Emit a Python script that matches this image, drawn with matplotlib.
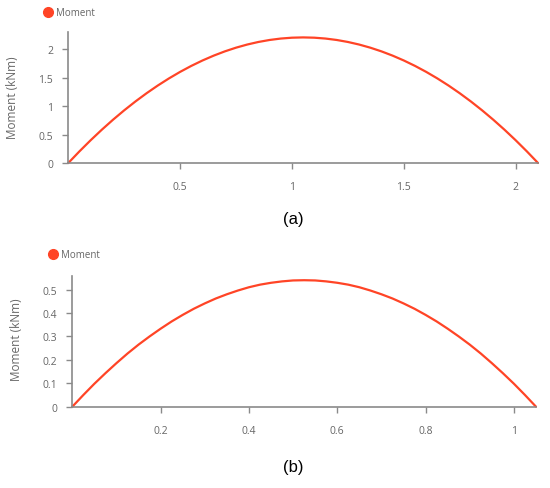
import matplotlib
matplotlib.use("Agg")
import matplotlib.pyplot as plt
from matplotlib.ticker import FormatStrFormatter
from matplotlib.lines import Line2D

# panel (a): span 2.1 m
pos_a = [0.0, 0.05, 0.1, 0.15, 0.2, 0.25, 0.3, 0.35, 0.4, 0.45, 0.5, 0.55, 0.6, 0.65,
         0.7, 0.75, 0.8, 0.85, 0.9, 0.95, 1.0, 1.05, 1.1, 1.15, 1.2, 1.25, 1.3, 1.35,
         1.4, 1.45, 1.5, 1.55, 1.6, 1.65, 1.7, 1.75, 1.8, 1.85, 1.9, 1.95, 2.0, 2.05, 2.1]
moment_a = [0.0, 0.205, 0.40, 0.585, 0.76, 0.925, 1.08, 1.225, 1.36, 1.485, 1.60, 1.705,
            1.80, 1.885, 1.96, 2.025, 2.08, 2.125, 2.16, 2.185, 2.20, 2.205, 2.20, 2.185,
            2.16, 2.125, 2.08, 2.025, 1.96, 1.885, 1.80, 1.705, 1.60, 1.485, 1.36, 1.225,
            1.08, 0.925, 0.76, 0.585, 0.40, 0.205, 0.0]
xticks_a = [0.5, 1, 1.5, 2]
yticks_a = [0, 0.5, 1, 1.5, 2]

# panel (b): span 1.05 m
pos_b = [0.0, 0.025, 0.05, 0.075, 0.1, 0.125, 0.15, 0.175, 0.2, 0.225, 0.25, 0.275,
         0.3, 0.325, 0.35, 0.375, 0.4, 0.425, 0.45, 0.475, 0.5, 0.525, 0.55, 0.575,
         0.6, 0.625, 0.65, 0.675, 0.7, 0.725, 0.75, 0.775, 0.8, 0.825, 0.85, 0.875,
         0.9, 0.925, 0.95, 0.975, 1.0, 1.025, 1.05]
moment_b = [0.0, 0.050, 0.098, 0.143, 0.186, 0.227, 0.265, 0.300, 0.333, 0.364, 0.392, 0.418,
            0.441, 0.462, 0.480, 0.496, 0.510, 0.521, 0.529, 0.535, 0.539, 0.540, 0.539, 0.535,
            0.529, 0.521, 0.510, 0.496, 0.480, 0.462, 0.441, 0.418, 0.392, 0.364, 0.333, 0.300,
            0.265, 0.227, 0.186, 0.143, 0.098, 0.050, 0.0]
xticks_b = [0.2, 0.4, 0.6, 0.8, 1]
yticks_b = [0, 0.1, 0.2, 0.3, 0.4, 0.5]

RED = '#ff4426'
GREY = '#666666'
AXC = '#8a8a8a'
W, H = 550, 489

plt.rcParams['font.family'] = ['Open Sans', 'DejaVu Sans']

fig = plt.figure(figsize=(W / 100, H / 100), dpi=100)


def px_axes(left, right, top, bottom):
    return fig.add_axes([left / W, (H - bottom) / H, (right - left) / W, (bottom - top) / H])


def style(ax, x, y, xlim, ylim, xticks, yticks):
    ax.plot(x, y, color=RED, lw=1.6, clip_on=False, solid_capstyle='round')
    ax.set_xlim(*xlim)
    ax.set_ylim(*ylim)
    ax.set_xticks(xticks)
    ax.set_yticks(yticks)
    ax.xaxis.set_major_formatter(FormatStrFormatter('%g'))
    ax.yaxis.set_major_formatter(FormatStrFormatter('%g'))
    for s in ['top', 'right']:
        ax.spines[s].set_visible(False)
    for s in ['left', 'bottom']:
        ax.spines[s].set_color(AXC)
        ax.spines[s].set_linewidth(1.2)
    ax.tick_params(axis='both', colors=AXC, labelcolor=GREY, labelsize=7.5,
                   length=4, width=1)
    ax.tick_params(axis='x', pad=9)
    ax.tick_params(axis='y', pad=7)


def legend(x, y):
    fig.add_artist(Line2D([x / W], [1 - y / H], marker='o', markersize=7,
                          color=RED, linestyle='', transform=fig.transFigure))
    fig.text((x + 8) / W, 1 - y / H, 'Moment', fontsize=7, color=GREY,
             ha='left', va='center')


ax1 = px_axes(68.3, 538, 33, 164)
style(ax1, pos_a, moment_a, (0, 2.1), (0, 2.3), xticks_a, yticks_a)
legend(48, 13)
fig.text(12.5 / W, 1 - 98 / H, 'Moment (kNm)', rotation=90, fontsize=8.5,
         color=GREY, ha='center', va='center')
fig.text(293 / W, 1 - 220 / H, '(a)', fontsize=12, family='Liberation Sans',
         ha='center', va='center')

ax2 = px_axes(72.3, 536, 277, 407.7)
style(ax2, pos_b, moment_b, (0, 1.05), (0, 0.558), xticks_b, yticks_b)
legend(52.5, 255)
fig.text(16.7 / W, 1 - 340 / H, 'Moment (kNm)', rotation=90, fontsize=8.5,
         color=GREY, ha='center', va='center')
fig.text(293 / W, 1 - 468 / H, '(b)', fontsize=12, family='Liberation Sans',
         ha='center', va='center')

fig.savefig('out.png', dpi=100)
